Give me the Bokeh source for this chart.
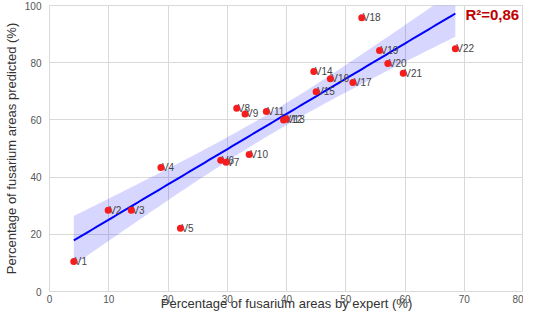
import numpy as np
from bokeh.plotting import figure
from bokeh.models import ColumnDataSource, FixedTicker, Range1d, Label
from bokeh.embed import file_html
from bokeh.resources import INLINE
from bokeh.core.properties import value

# ---- data ----
labels = ["V1", "V2", "V3", "V4", "V5", "V6", "V7", "V8", "V9", "V10", "V11",
          "V12", "V13", "V14", "V15", "V16", "V17", "V18", "V19", "V20", "V21", "V22"]
expert = [4.1, 9.9, 13.8, 18.8, 22.1, 28.9, 29.8, 31.6, 33.0, 33.7, 36.6,
          39.5, 39.9, 44.6, 45.0, 47.4, 51.2, 52.7, 55.7, 57.1, 59.7, 68.5]
predicted = [10.5, 28.4, 28.4, 43.4, 22.1, 45.9, 45.2, 64.1, 62.1, 47.9, 62.9,
             60.0, 60.3, 76.9, 69.8, 74.4, 73.1, 95.7, 84.3, 79.7, 76.3, 84.9]
x_ticks = [0, 10, 20, 30, 40, 50, 60, 70, 80]
y_ticks = [0, 20, 40, 60, 80, 100]
x_title = "Percentage of fusarium areas by expert (%)"
y_title = "Percentage of fusarium areas predicted (%)"
T_975_DF20 = 2.086  # Student t quantile for 95% CI, n-2 = 20 dof

# ---- regression (computed from data) ----
x = np.array(expert)
y = np.array(predicted)
n = len(x)
slope, intercept = np.polyfit(x, y, 1)
xs = np.linspace(x.min(), x.max(), 100)
ys = intercept + slope * xs
resid = y - (intercept + slope * x)
s = np.sqrt(np.sum(resid ** 2) / (n - 2))
sxx = np.sum((x - x.mean()) ** 2)
half = T_975_DF20 * s * np.sqrt(1.0 / n + (xs - x.mean()) ** 2 / sxx)
r2 = 1 - np.sum(resid ** 2) / np.sum((y - y.mean()) ** 2)

FONT = "Liberation Sans"
GRID = "#d9d9d9"

p = figure(width=523, height=313, output_backend="svg", toolbar_location=None,
           x_range=Range1d(0, 80), y_range=Range1d(0, 100),
           min_border_left=43, min_border_right=0, min_border_top=5, min_border_bottom=0)
p.background_fill_color = "white"
p.border_fill_color = "white"
p.outline_line_color = GRID
p.outline_line_width = 1

p.xaxis.ticker = FixedTicker(ticks=x_ticks)
p.yaxis.ticker = FixedTicker(ticks=y_ticks)
p.xgrid.ticker = FixedTicker(ticks=x_ticks)
p.ygrid.ticker = FixedTicker(ticks=y_ticks)
p.grid.grid_line_color = GRID
p.grid.grid_line_width = 1

for ax in (p.xaxis[0], p.yaxis[0]):
    ax.axis_line_color = None
    ax.major_tick_line_color = None
    ax.minor_tick_line_color = None
    ax.major_tick_out = 0
    ax.major_tick_in = 0
    ax.minor_tick_out = 0
    ax.minor_tick_in = 0
    ax.major_label_text_font = FONT
    ax.major_label_text_font_size = "10px"
    ax.major_label_text_color = "#555555"
    ax.axis_label_text_font = FONT
    ax.axis_label_text_font_size = "13px"
    ax.axis_label_text_font_style = "normal"
    ax.axis_label_text_color = "#333333"

p.xaxis.axis_label = x_title
p.yaxis.axis_label = y_title
p.xaxis.major_label_standoff = 3
p.xaxis.axis_label_standoff = -10
p.yaxis.major_label_standoff = 8
p.yaxis.axis_label_standoff = 3

# confidence band + regression line
p.varea(x=xs, y1=ys - half, y2=ys + half, fill_color="#0000ff", fill_alpha=0.16)
p.line(xs, ys, line_color="#0000ff", line_width=2)

src = ColumnDataSource(dict(x=expert, y=predicted, label=labels))
p.text(x="x", y="y", text="label", source=src, text_font=value(FONT),
       text_font_size="10px", text_color="#444444", text_align="left",
       text_baseline="alphabetic", x_offset=1)
p.scatter(x="x", y="y", source=src, size=7, fill_color="#f51d1d",
          line_color=None)

r2_txt = "R²=" + f"{r2:.2f}".replace(".", ",")
p.add_layout(Label(x=70.2, y=96.7, text=r2_txt, text_font=FONT,
                   text_font_size="15px", text_font_style="bold",
                   text_color="#c00000", text_baseline="middle", text_align="left"))

open("out.html", "w").write(file_html(p, INLINE))
